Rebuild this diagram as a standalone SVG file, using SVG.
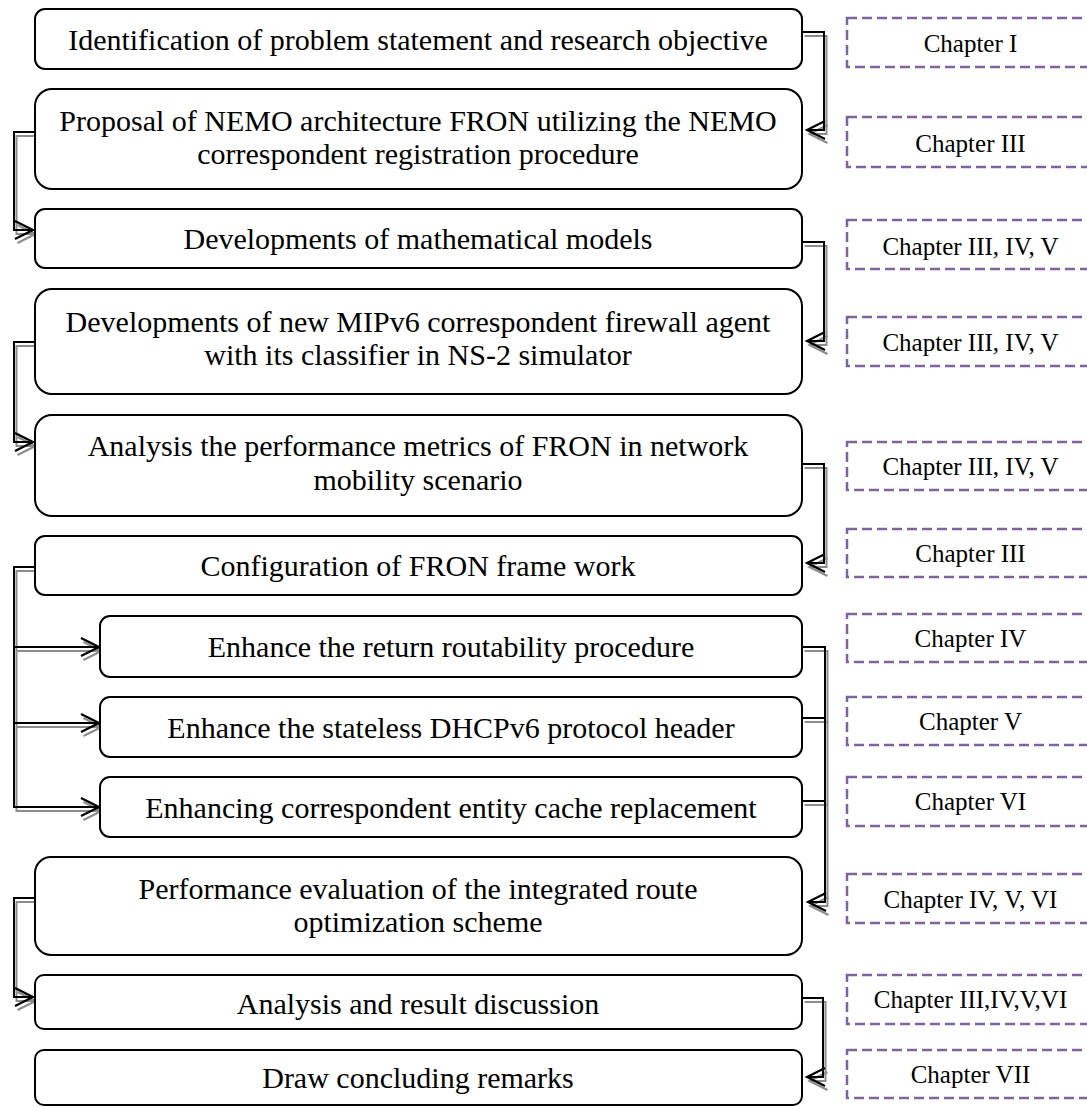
<svg xmlns="http://www.w3.org/2000/svg" width="1087" height="1107" viewBox="0 0 1087 1107">
<style>
  .box { fill: #fff; stroke: #000; stroke-width: 2; }
  .ch { fill: none; stroke: #7F63A1; stroke-width: 2.5; stroke-dasharray: 10 5; }
  .t { font-family: "Liberation Serif", "Times New Roman", serif; font-size: 30px; fill: #000; text-anchor: middle; }
  .ct { font-family: "Liberation Serif", "Times New Roman", serif; font-size: 25px; fill: #000; text-anchor: middle; }
  .ln { fill: none; stroke: #000; stroke-width: 2; marker-end: url(#ah); }
  .ln.nm, .sh.nm { marker-end: none; }
  .sh { fill: none; stroke: #8c8c8c; stroke-width: 2; marker-end: url(#ahs); }
</style>
<defs>
  <marker id="ah" markerUnits="userSpaceOnUse" markerWidth="20" markerHeight="20" viewBox="-1 -1 20 20" refX="18" refY="9" orient="auto" overflow="visible">
    <path d="M0,0 L18,9 L0,18" fill="none" stroke="#000" stroke-width="2.2"/>
  </marker>
  <marker id="ahs" markerUnits="userSpaceOnUse" markerWidth="20" markerHeight="20" viewBox="-1 -1 20 20" refX="18" refY="9" orient="auto" overflow="visible">
    <path d="M0,0 L18,9 L0,18" fill="none" stroke="#8c8c8c" stroke-width="2.2"/>
  </marker>
</defs>
<rect width="1087" height="1107" fill="#fff"/>

<g id="connectors">
  <g id="connector-shadows" transform="translate(2.5,4)">
    <path class="sh" d="M802,32 H824 V130 H807"/>
    <path class="sh" d="M802,242 H824 V341 H807"/>
    <path class="sh" d="M802,464 H824 V563 H807"/>
    <path class="sh" d="M802,647 H825 V902 H808"/>
    <path class="sh nm" d="M802,718 H825"/>
    <path class="sh nm" d="M802,801 H825"/>
    <path class="sh" d="M802,998 H823 V1077 H807"/>
    <path class="sh" d="M35,132 H14 V230 H33"/>
    <path class="sh" d="M35,342 H14 V442 H33"/>
    <path class="sh" d="M35,567 H14 V807 H99"/>
    <path class="sh" d="M14,647 H99"/>
    <path class="sh" d="M14,723 H99"/>
    <path class="sh" d="M35,898 H14 V997 H33"/>
  </g>
  <g id="connector-lines">
    <path class="ln" d="M802,32 H824 V130 H807"/>
    <path class="ln" d="M802,242 H824 V341 H807"/>
    <path class="ln" d="M802,464 H824 V563 H807"/>
    <path class="ln" d="M802,647 H825 V902 H808"/>
    <path class="ln nm" d="M802,718 H825"/>
    <path class="ln nm" d="M802,801 H825"/>
    <path class="ln" d="M802,998 H823 V1077 H807"/>
    <path class="ln" d="M35,132 H14 V230 H33"/>
    <path class="ln" d="M35,342 H14 V442 H33"/>
    <path class="ln" d="M35,567 H14 V807 H99"/>
    <path class="ln" d="M14,647 H99"/>
    <path class="ln" d="M14,723 H99"/>
    <path class="ln" d="M35,898 H14 V997 H33"/>
  </g>
</g>

<g id="n1"><rect class="box" x="35" y="9" width="767" height="60" rx="10"/><text class="t" x="418" y="50">Identification of problem statement and research objective</text></g>
<g id="n2"><rect class="box" x="35" y="89" width="767" height="100" rx="17"/><text class="t" x="418" y="131">Proposal of NEMO architecture FRON utilizing the NEMO</text><text class="t" x="418" y="164">correspondent registration procedure</text></g>
<g id="n3"><rect class="box" x="35" y="209" width="767" height="59" rx="10"/><text class="t" x="418" y="249">Developments of mathematical models</text></g>
<g id="n4"><rect class="box" x="35" y="289" width="767" height="105" rx="17"/><text class="t" x="418" y="332">Developments of new MIPv6 correspondent firewall agent</text><text class="t" x="418" y="365">with its classifier in NS-2 simulator</text></g>
<g id="n5"><rect class="box" x="35" y="415" width="767" height="101" rx="17"/><text class="t" x="418" y="456">Analysis the performance metrics of FRON in network</text><text class="t" x="418" y="490">mobility scenario</text></g>
<g id="n6"><rect class="box" x="35" y="536" width="767" height="59" rx="10"/><text class="t" x="418" y="576">Configuration of FRON frame work</text></g>
<g id="n7"><rect class="box" x="100" y="616" width="702" height="61" rx="10"/><text class="t" x="451" y="657">Enhance the return routability procedure</text></g>
<g id="n8"><rect class="box" x="100" y="697" width="702" height="60" rx="10"/><text class="t" x="451" y="738">Enhance the stateless DHCPv6 protocol header</text></g>
<g id="n9"><rect class="box" x="100" y="777" width="702" height="60" rx="10"/><text class="t" x="451" y="818">Enhancing correspondent entity cache replacement</text></g>
<g id="n10"><rect class="box" x="35" y="857" width="767" height="98" rx="16"/><text class="t" x="418" y="899">Performance evaluation of the integrated route</text><text class="t" x="418" y="932">optimization scheme</text></g>
<g id="n11"><rect class="box" x="35" y="975" width="767" height="54" rx="9"/><text class="t" x="418" y="1014">Analysis and result discussion</text></g>
<g id="n12"><rect class="box" x="35" y="1050" width="767" height="55" rx="9"/><text class="t" x="418" y="1088">Draw concluding remarks</text></g>

<g id="c1"><rect class="ch" x="847" y="18" width="247" height="49"/><text class="ct" x="970.5" y="52">Chapter I</text></g>
<g id="c2"><rect class="ch" x="847" y="117" width="247" height="50"/><text class="ct" x="970.5" y="152">Chapter III</text></g>
<g id="c3"><rect class="ch" x="847" y="220" width="247" height="49"/><text class="ct" x="970.5" y="255">Chapter III, IV, V</text></g>
<g id="c4"><rect class="ch" x="847" y="317" width="247" height="49"/><text class="ct" x="970.5" y="351">Chapter III, IV, V</text></g>
<g id="c5"><rect class="ch" x="847" y="442" width="247" height="48"/><text class="ct" x="970.5" y="475">Chapter III, IV, V</text></g>
<g id="c6"><rect class="ch" x="847" y="529" width="247" height="48"/><text class="ct" x="970.5" y="562">Chapter III</text></g>
<g id="c7"><rect class="ch" x="847" y="614" width="247" height="48"/><text class="ct" x="970.5" y="647">Chapter IV</text></g>
<g id="c8"><rect class="ch" x="847" y="697" width="247" height="48"/><text class="ct" x="970.5" y="730">Chapter V</text></g>
<g id="c9"><rect class="ch" x="847" y="777" width="247" height="49"/><text class="ct" x="970.5" y="810">Chapter VI</text></g>
<g id="c10"><rect class="ch" x="847" y="874" width="247" height="49"/><text class="ct" x="970.5" y="908">Chapter IV, V, VI</text></g>
<g id="c11"><rect class="ch" x="847" y="975" width="247" height="49"/><text class="ct" x="970.5" y="1008">Chapter III,IV,V,VI</text></g>
<g id="c12"><rect class="ch" x="847" y="1050" width="247" height="48"/><text class="ct" x="970.5" y="1083">Chapter VII</text></g>
</svg>
